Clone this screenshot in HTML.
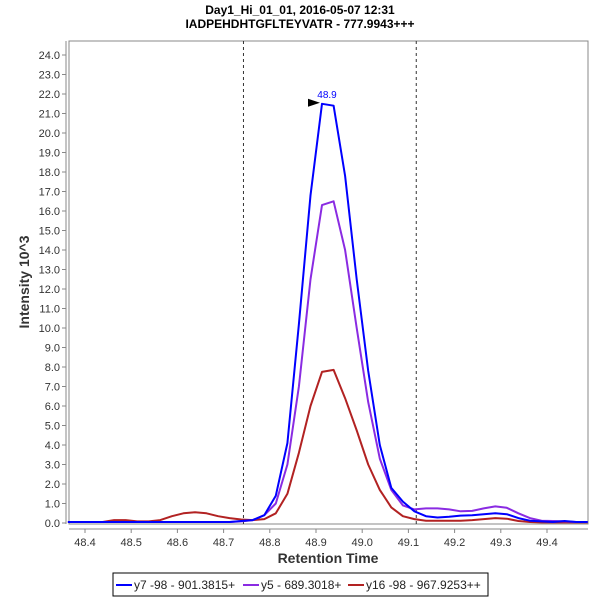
<!DOCTYPE html>
<html><head><meta charset="utf-8"><style>
body{margin:0;background:#fff;}
svg{display:block;font-family:"Liberation Sans",sans-serif;}
</style></head><body>
<svg id="chart" width="600" height="600">
<text x="300" y="14" text-anchor="middle" font-size="12" font-weight="bold">Day1_Hi_01_01, 2016-05-07 12:31</text>
<text x="300" y="28" text-anchor="middle" font-size="12" font-weight="bold">IADPEHDHTGFLTEYVATR - 777.9943+++</text>
<rect x="69" y="41" width="519" height="483" fill="#fff" stroke="#888"/>
<g id="yaxis"></g>
<g id="xaxis"></g>
<g id="series"></g>
<text x="0" y="0" transform="translate(29,282) rotate(-90)" text-anchor="middle" font-size="14" font-weight="bold" fill="#333">Intensity 10^3</text>
<text x="328" y="563" text-anchor="middle" font-size="14" font-weight="bold" fill="#333">Retention Time</text>
<g>
<rect x="113" y="573" width="375" height="23" fill="#fff" stroke="#000"/>
<line x1="116" y1="585" x2="132" y2="585" stroke="#0000ff" stroke-width="2"/>
<text x="134" y="589" font-size="12" fill="#222">y7 -98 - 901.3815+</text>
<line x1="243" y1="585" x2="259" y2="585" stroke="#8a2be2" stroke-width="2"/>
<text x="261" y="589" font-size="12" fill="#222">y5 - 689.3018+</text>
<line x1="348" y1="585" x2="364" y2="585" stroke="#b22222" stroke-width="2"/>
<text x="366" y="589" font-size="12" fill="#222">y16 -98 - 967.9253++</text>
</g>
</svg>
<script>
const times = [];
for (let k = -22; k <= 23; k++) times.push(48.913 + k * 0.025);
const y7 = [0.05,0.05,0.05,0.05,0.05,0.05,0.05,0.05,0.05,0.05,0.05,0.05,0.05,0.05,0.05,0.1,0.15,0.4,1.4,4.1,10.2,16.8,21.5,21.4,17.8,12.5,7.8,4.0,1.8,1.1,0.6,0.35,0.28,0.32,0.38,0.4,0.45,0.5,0.45,0.25,0.12,0.08,0.05,0.1,0.05,0.05];
const y5 = [0.05,0.05,0.05,0.05,0.05,0.05,0.05,0.05,0.05,0.05,0.05,0.05,0.05,0.05,0.05,0.08,0.15,0.4,1.0,3.0,7.0,12.5,16.3,16.5,14.0,10.0,6.2,3.3,1.7,0.9,0.7,0.75,0.75,0.7,0.6,0.62,0.75,0.85,0.78,0.5,0.25,0.12,0.1,0.08,0.05,0.05];
const y16 = [0.05,0.05,0.05,0.05,0.15,0.15,0.08,0.08,0.15,0.35,0.5,0.55,0.5,0.35,0.25,0.18,0.15,0.2,0.5,1.5,3.6,6.0,7.75,7.85,6.4,4.75,3.0,1.7,0.8,0.35,0.2,0.12,0.12,0.12,0.12,0.15,0.2,0.25,0.22,0.1,0.05,0.03,0.03,0.03,0.03,0.03];
const xTicks = ["48.4","48.5","48.6","48.7","48.8","48.9","49.0","49.1","49.2","49.3","49.4"];
const yTicks = [0,1,2,3,4,5,6,7,8,9,10,11,12,13,14,15,16,17,18,19,20,21,22,23,24];
const boundaries = [48.743, 49.117];
const peakLabel = "48.9";

const NS = "http://www.w3.org/2000/svg";
const xs = t => 85 + (t - 48.4) * 462;
const ys = v => 523 - v * 19.5;
function mk(tag, attrs, parent){const e=document.createElementNS(NS,tag);for(const k in attrs)e.setAttribute(k,attrs[k]);parent.appendChild(e);return e;}
const ya = document.getElementById('yaxis'), xa = document.getElementById('xaxis'), sg = document.getElementById('series');
mk('line',{x1:66,y1:41,x2:66,y2:524,stroke:'#888'},ya);
yTicks.forEach(v=>{
  mk('line',{x1:62,y1:ys(v),x2:66,y2:ys(v),stroke:'#888'},ya);
  const t=mk('text',{x:60,y:ys(v)+4,'text-anchor':'end','font-size':11,fill:'#333'},ya);
  
  
  t.textContent=v.toFixed(1);
});
mk('line',{x1:69,y1:529,x2:588,y2:529,stroke:'#888'},xa);
xTicks.forEach(s=>{
  const x=xs(parseFloat(s));
  mk('line',{x1:x,y1:529,x2:x,y2:533,stroke:'#888'},xa);
  const t=mk('text',{x:x,y:546,'text-anchor':'middle','font-size':11,fill:'#333'},xa);
  
  
  t.textContent=s;
});
boundaries.forEach(b=>{
  const l=mk('line',{x1:xs(b),y1:41,x2:xs(b),y2:524,stroke:'#333','stroke-dasharray':'3,3'},sg);
  
  
});
function drawSeries(vals,color,name){
  const pts=vals.map((v,i)=>xs(times[i]).toFixed(1)+','+ys(v).toFixed(1)).join(' ');
  const p=mk('polyline',{points:pts,fill:'none',stroke:color,'stroke-width':2,'stroke-linejoin':'round'},sg);
  
  
}
drawSeries(y16,'#b22222','series-y16');
drawSeries(y5,'#8a2be2','series-y5');
drawSeries(y7,'#0000ff','series-y7');
let mi=0; y7.forEach((v,i)=>{if(v>y7[mi])mi=i;});
const px=xs(times[mi]), py=ys(y7[mi]);
const arrow=mk('polygon',{points:`${px-2},${py-1} ${px-14},${py-5} ${px-14},${py+3}`,fill:'#000'},sg);


const pl=mk('text',{x:px+5,y:py-6,'text-anchor':'middle','font-size':10,fill:'#0000ff'},sg);


pl.textContent=peakLabel;
</script>
</body></html>
